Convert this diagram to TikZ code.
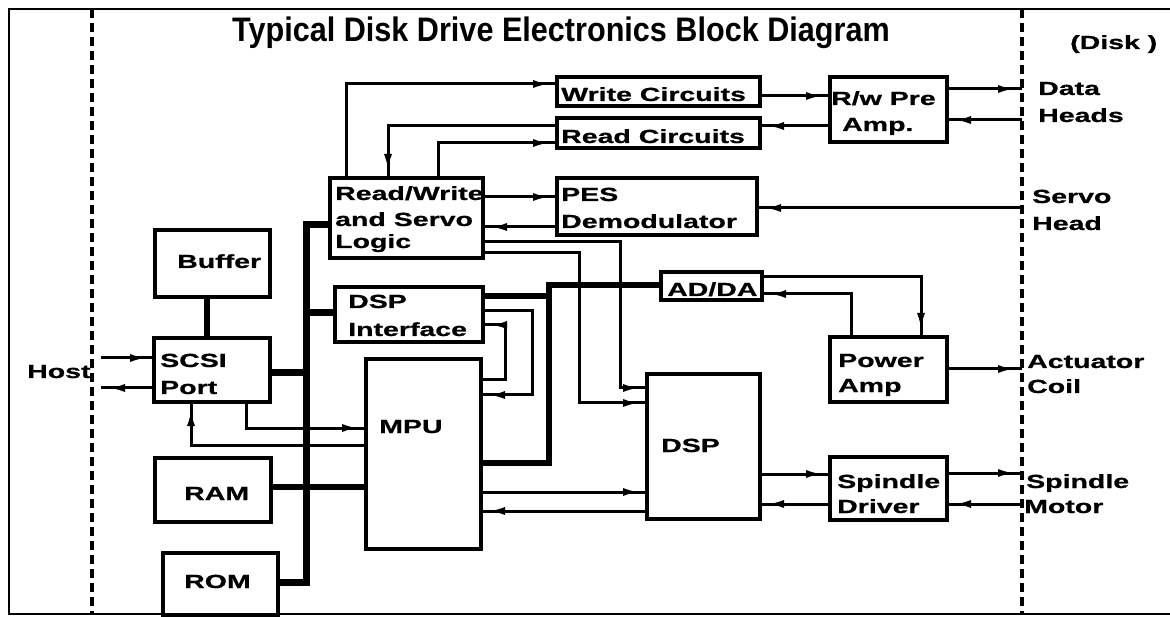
\documentclass[tikz,border=0pt]{standalone}
\usepackage{fontspec}
\setmainfont{Liberation Sans}
\newfontfamily\lblfont{Liberation Sans}[FakeStretch=1.5,FakeBold=0.8]
\newfontfamily\ttlfont{Liberation Sans}[FakeStretch=0.9]
\usetikzlibrary{arrows.meta,decorations.markings}
\tikzset{
 box/.style={draw, line width=3.2pt, inner sep=0pt, outer sep=0pt, anchor=north west},
 lbl/.style={font=\lblfont\bfseries\fontsize{19}{21}\selectfont, inner sep=0pt, anchor=base west},
 ttl/.style={font=\ttlfont\bfseries\fontsize{34}{36}\selectfont, inner sep=0pt, anchor=base},
 wire/.style={line width=3pt},
 arr/.style={wire, postaction={decorate}, decoration={markings, mark=at position -7pt with {\arrow{Latex[length=17pt,width=8pt]}}}},
 thickw/.style={line width=5.5pt},
 busw/.style={line width=7pt},
 frameline/.style={line width=2.5pt},
 divider/.style={line width=3.8pt, dash pattern=on 9pt off 5pt},
}
\begin{document}
\begin{tikzpicture}[x=1pt,y=-1pt]
\useasboundingbox (0,0) rectangle (1170,617);
% frame and dividers
\coordinate (f1) at (1170,9);
\coordinate (f2) at (9,9);
\coordinate (f3) at (9,614);
\coordinate (f4) at (1170,614);
\draw[frameline] (f1) -- (f2) -- (f3) -- (f4);
\coordinate (dl) at (92,9);
\coordinate (dlb) at (92,614);
\coordinate (dr) at (1022,9);
\coordinate (drb) at (1022,614);
\draw[divider] (dl) -- (dlb);
\draw[divider] (dr) -- (drb);

\node[ttl] (title) at (561,42) {Typical Disk Drive Electronics Block Diagram};

% boxes
\node[box, minimum width=203pt, minimum height=29pt] (wc) at (557,77) {};
\node[box, minimum width=203pt, minimum height=30pt] (rc) at (557,118) {};
\node[box, minimum width=117pt, minimum height=65pt] (pre) at (830,77) {};
\node[box, minimum width=200pt, minimum height=57pt] (pes) at (557,178) {};
\node[box, minimum width=153pt, minimum height=80pt] (rwl) at (330,178) {};
\node[box, minimum width=115pt, minimum height=67pt] (buf) at (155,230) {};
\node[box, minimum width=148pt, minimum height=55pt] (dspi) at (335,287) {};
\node[box, minimum width=116pt, minimum height=64pt] (scsi) at (154,338) {};
\node[box, minimum width=115pt, minimum height=190pt] (mpu) at (366,359) {};
\node[box, minimum width=116pt, minimum height=64pt] (ram) at (155,458) {};
\node[box, minimum width=115pt, minimum height=64pt] (rom) at (163,553) {};
\node[box, minimum width=101pt, minimum height=28pt] (adda) at (661,272) {};
\node[box, minimum width=113pt, minimum height=145pt] (dsp) at (647,374) {};
\node[box, minimum width=117pt, minimum height=65pt] (pamp) at (830,337) {};
\node[box, minimum width=117pt, minimum height=63pt] (spd) at (830,457) {};

% box texts
\node[lbl] (t-wc) at (561,101) {Write Circuits};
\node[lbl] (t-rc) at (561,143) {Read Circuits};
\node[lbl] (t-pre1) at (831,105) {R/w Pre};
\node[lbl] (t-pre2) at (842,131) {Amp.};
\node[lbl] (t-pes1) at (561,201) {PES};
\node[lbl] (t-pes2) at (561,228) {Demodulator};
\node[lbl] (t-rw1) at (335,200) {Read/Write};
\node[lbl] (t-rw2) at (335,226) {and Servo};
\node[lbl] (t-rw3) at (335,248) {Logic};
\node[lbl] (t-buf) at (177,268) {Buffer};
\node[lbl] (t-dspi1) at (348,308) {DSP};
\node[lbl] (t-dspi2) at (348,336) {Interface};
\node[lbl] (t-scsi1) at (160,367) {SCSI};
\node[lbl] (t-scsi2) at (160,394) {Port};
\node[lbl] (t-mpu) at (379,433) {MPU};
\node[lbl] (t-ram) at (184,500) {RAM};
\node[lbl] (t-rom) at (184,588) {ROM};
\node[lbl] (t-adda) at (667,296) {AD/DA};
\node[lbl] (t-dsp) at (661,452) {DSP};
\node[lbl] (t-pa1) at (838,367) {Power};
\node[lbl] (t-pa2) at (838,392) {Amp};
\node[lbl] (t-sd1) at (837,488) {Spindle};
\node[lbl] (t-sd2) at (837,513) {Driver};

% outside labels
\node[lbl] (disk) at (1070,49) {(Disk )};
\node[lbl] (l-data) at (1038,95) {Data};
\node[lbl] (l-heads) at (1038,122) {Heads};
\node[lbl] (l-servo) at (1032,203) {Servo};
\node[lbl] (l-head) at (1032,230) {Head};
\node[lbl] (l-act) at (1027,368) {Actuator};
\node[lbl] (l-coil) at (1027,393) {Coil};
\node[lbl] (l-spm) at (1026,488) {Spindle};
\node[lbl] (l-mot) at (1024,513) {Motor};
\node[lbl] (l-host) at (27,378) {Host};

% buses
\draw[busw] (rwl.west |- 0,225) -| (306,582) -- (rom.east |- 0,582);
\draw[busw] (dspi.west |- 0,313) -- (306,313);
\draw[busw] (scsi.east |- 0,373) -- (306,373);
\draw[thickw] (ram.east |- 0,487) -- (mpu.west |- 0,487);
\draw[thickw] (207,0 |- buf.south) -- (207,0 |- scsi.north);
\draw[thickw] (mpu.east |- 0,463) -| (549,285) -- (adda.west |- 0,285);
\draw[thickw] (dspi.east |- 0,296) -- (549,296);

% read / write path
\draw[arr] (346,0 |- rwl.north) |- (wc.west |- 0,84);
\draw[arr] (rc.west |- 0,126) -| (388,0 |- rwl.north);
\draw[arr] (438,0 |- rwl.north) |- (rc.west |- 0,143);
\draw[arr] (wc.east |- 0,96) -- (pre.west |- 0,96);
\draw[arr] (pre.west |- 0,126) -- (rc.east |- 0,126);
\draw[arr] (pre.east |- 0,89) -- (dr |- 0,89);
\draw[arr] (dr |- 0,120) -- (pre.east |- 0,120);
\draw[arr] (rwl.east |- 0,197) -- (pes.west |- 0,197);
\draw[arr] (pes.west |- 0,227) -- (rwl.east |- 0,227);
\draw[arr] (dr |- 0,208) -- (pes.east |- 0,208);
\draw[arr] (rwl.east |- 0,242) -| (620,388) -- (dsp.west |- 0,388);
\draw[arr] (rwl.east |- 0,253) -| (579,403) -- (dsp.west |- 0,403);

% servo path
\draw[arr] (adda.east |- 0,277) -| (921,0 |- pamp.north);
\draw[arr] (851,0 |- pamp.north) |- (adda.east |- 0,294);
\draw[arr] (pamp.east |- 0,369) -- (dr |- 0,369);

% MPU / DSP interface
\draw[arr] (dspi.east |- 0,311) -| (532,395) -- (mpu.east |- 0,395);
\draw[arr] (mpu.east |- 0,380) -| (505,325) -- (dspi.east |- 0,325);
\draw[arr] (mpu.east |- 0,492) -- (dsp.west |- 0,492);
\draw[arr] (dsp.west |- 0,511) -- (mpu.east |- 0,511);

% spindle
\draw[arr] (dsp.east |- 0,474) -- (spd.west |- 0,474);
\draw[arr] (spd.west |- 0,504) -- (dsp.east |- 0,504);
\draw[arr] (spd.east |- 0,473) -- (dr |- 0,473);
\draw[arr] (dr |- 0,504) -- (spd.east |- 0,504);

% host / SCSI
\coordinate (h1) at (101,358);
\coordinate (h2) at (101,388);
\draw[arr] (h1) -- (scsi.west |- h1);
\draw[arr] (scsi.west |- h2) -- (h2);
\draw[arr] (246,0 |- scsi.south) |- (mpu.west |- 0,428);
\draw[arr] (mpu.west |- 0,445) -| (191,0 |- scsi.south);
\end{tikzpicture}
\end{document}
